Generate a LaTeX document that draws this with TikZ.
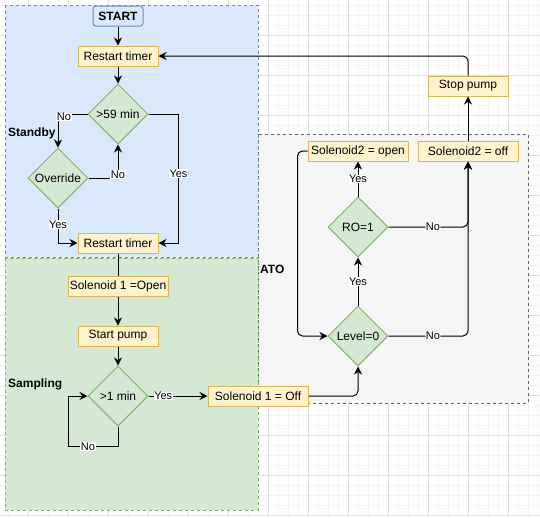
\documentclass[tikz,border=0pt]{standalone}
\usepackage{fontspec}
\setmainfont{Liberation Sans}
\usetikzlibrary{shapes.geometric,arrows.meta}
\definecolor{bluefill}{HTML}{DAE8FC}
\definecolor{blueline}{HTML}{6C8EBF}
\definecolor{greenfill}{HTML}{D5E8D4}
\definecolor{greenline}{HTML}{82B366}
\definecolor{grayfill}{HTML}{F5F5F5}
\definecolor{grayline}{HTML}{666666}
\definecolor{boxfill}{HTML}{FFF2CC}
\definecolor{boxline}{HTML}{D6B656}
\definecolor{gridmajor}{HTML}{E0E0E0}
\definecolor{gridminor}{HTML}{F4F4F4}

\begin{document}
\begin{tikzpicture}[x=1pt,y=-1pt,
    font=\fontsize{12}{14}\selectfont,
    region/.style={dash pattern=on 3pt off 3pt, line width=1pt},
    procbox/.style={draw=boxline, fill=boxfill, line width=1pt, minimum height=20pt, inner xsep=1pt, inner ysep=2pt},
    decision/.style={diamond, aspect=1, draw=greenline, fill=greenfill, line width=1pt, minimum width=60pt, minimum height=60pt, inner sep=0pt},
    flow/.style={-{Stealth[length=8pt,width=8pt,inset=2.5pt]}, line width=1pt},
    flowr/.style={flow, rounded corners=5pt},
    lbl/.style={fill=white, inner sep=0.5pt, font=\fontsize{11}{13}\selectfont},
    title/.style={anchor=west, inner sep=0pt, font=\fontsize{12}{14}\selectfont\bfseries}]
  \useasboundingbox (0,0) rectangle (540,517);

  % GRID
  \foreach \gx in {8,18,...,538} \draw[gridminor, line width=1pt] (\gx,0) -- (\gx,517);
  \foreach \gy in {5,15,...,515} \draw[gridminor, line width=1pt] (0,\gy) -- (540,\gy);
  \foreach \gx in {28,68,...,508} \draw[gridmajor, line width=1pt] (\gx,0) -- (\gx,517);
  \foreach \gy in {35,75,...,515} \draw[gridmajor, line width=1pt] (0,\gy) -- (540,\gy);

  % REGIONS
  \draw[region, draw=grayline, fill=grayfill] (258,134) rectangle (528,403);
  \draw[region, draw=blueline, fill=bluefill] (5,5) rectangle (258,257);
  \draw[region, draw=greenline, fill=greenfill] (5,258) rectangle (258,510);
  \node[title] (standby) at (8,133) {Standby};
  \node[title] (sampling) at (8,384) {Sampling};
  \node[title] (ato) at (260,269) {ATO};

  % STEPS
  \node[procbox, fill=bluefill, draw=blueline, rounded corners=3pt, font=\fontsize{12}{14}\selectfont\bfseries, minimum width=50pt] (start) at (118,16) {START};
  \node[procbox, minimum width=80pt] (restart1) at (118,56) {Restart timer};
  \node[decision] (wait59) at (118,114) {>59 min};
  \node[decision] (override) at (58,178) {Override};
  \node[procbox, minimum width=80pt] (restart2) at (118,243) {Restart timer};
  \node[procbox, minimum width=100pt] (sol1open) at (118,286) {Solenoid 1 =Open};
  \node[procbox, minimum width=80pt] (startpump) at (118,336) {Start pump};
  \node[decision] (wait1) at (118,396) {>1 min};
  \node[procbox, minimum width=100pt] (sol1off) at (258,396) {Solenoid 1 = Off};
  \node[decision] (level0) at (358,336) {Level=0};
  \node[decision] (ro1) at (358,227) {RO=1};
  \node[procbox, minimum width=100pt] (sol2open) at (358,151) {Solenoid2 = open};
  \node[procbox, minimum width=100pt] (sol2off) at (468,151) {Solenoid2 = off};
  \node[procbox, minimum width=80pt] (stoppump) at (468,86) {Stop pump};

  % STANDBY
  \draw[flow] (start) -- (restart1);
  \draw[flow] (restart1) -- (wait59);
  \draw[flow] (wait59.west) -| node[lbl, pos=0.5, xshift=6pt, yshift=-3pt] {No} (override.north);
  \draw[flow] (override.east) -| node[lbl, pos=0.55] {No} (wait59.south);
  \draw[flow] (override.south) |- node[lbl, pos=0.23] {Yes} (restart2.west);
  \draw[flow] (wait59.east) -- ++(30,0) |- node[lbl, pos=0.23] {Yes} (restart2.east);

  % SAMPLING
  \draw[line width=1pt] (restart2) -- (sol1open);
  \draw[flow] (sol1open) -- (startpump);
  \draw[flow] (startpump) -- (wait1);
  \draw[flow] (wait1.south) |- node[lbl, pos=0.8] {No} ++(-50,20) |- (wait1.west);
  \draw[flow] (wait1.east) -- node[lbl, pos=0.25] {Yes} (sol1off.west);

  % ATO
  \draw[flowr] (sol1off.east) -| (level0.south);
  \draw[flow] (level0.north) -- node[lbl] {Yes} (ro1.south);
  \draw[flow] (ro1.north) -- node[lbl] {Yes} (sol2open.south);
  \draw[flowr] (sol2open.west) -- ++(-10,0) |- (level0.west);
  \draw[flowr] (ro1.east) -| node[lbl, pos=0.28] {No} (sol2off.south);
  \draw[flowr] (level0.east) -| node[lbl, pos=0.28] {No} (sol2off.south);
  \draw[flow] (sol2off) -- (stoppump);
  \draw[flowr] (stoppump.north) |- (restart1.east);
\end{tikzpicture}
\end{document}
